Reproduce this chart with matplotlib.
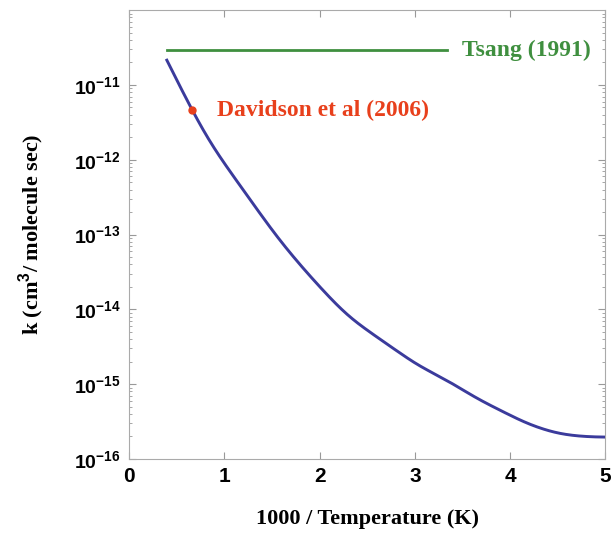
import matplotlib
matplotlib.use("Agg")
import matplotlib.pyplot as plt
import numpy as np

plt.rcParams["mathtext.fontset"] = "custom"
plt.rcParams["mathtext.bf"] = "Liberation Sans:bold"
plt.rcParams["mathtext.rm"] = "Liberation Sans:bold"

# rate constant vs inverse temperature
inv_temp = [0.396, 0.659, 0.851, 1.026, 1.201, 1.376, 1.551, 1.796, 1.972,
            2.146, 2.321, 2.497, 2.671, 2.847, 3.022, 3.196, 3.372, 3.617,
            3.792, 3.967, 4.142, 4.317, 4.493, 4.667, 4.842, 5.0]
k_rate = [2.15e-11, 4.6e-12, 1.65e-12, 8.0e-13, 3.9e-13, 1.9e-13, 9.3e-14,
          3.9e-14, 2.2e-14, 1.26e-14, 7.6e-15, 5.3e-15, 3.7e-15, 2.6e-15,
          1.8e-15, 1.4e-15, 1.07e-15, 6.8e-16, 5.2e-16, 4.05e-16, 3.1e-16,
          2.56e-16, 2.19e-16, 2.04e-16, 1.97e-16, 1.97e-16]

# Tsang (1991) constant estimate
tsang_x = [0.40, 3.34]
tsang_k = [2.9e-11, 2.9e-11]

# Davidson et al (2006) measurement
davidson_x = [0.659]
davidson_k = [4.6e-12]

serif = ["Liberation Serif", "DejaVu Serif"]
sans = ["Liberation Sans", "DejaVu Sans"]


def smooth_curve(x, y, xs, s=0.12):
    # local linear fit with gaussian weights: smooth, keeps trends at the ends
    dense = np.interp(xs, x, y)
    out = np.empty_like(xs)
    for i, x0 in enumerate(xs):
        w = np.exp(-0.5 * ((xs - x0) / s) ** 2)
        dx = xs - x0
        sw, swx, swxx = w.sum(), (w * dx).sum(), (w * dx * dx).sum()
        swy, swxy = (w * dense).sum(), (w * dx * dense).sum()
        out[i] = (swxx * swy - swx * swxy) / (sw * swxx - swx ** 2)
    return out


fig = plt.figure(figsize=(6.12, 5.36), dpi=100)
ax = fig.add_axes([0.211, 0.1437, 0.778, 0.8373])

xs = np.linspace(inv_temp[0], inv_temp[-1], 400)
ax.plot(xs, 10 ** smooth_curve(inv_temp, np.log10(k_rate), xs),
        color="#3b3b9c", lw=2.1, zorder=3)

ax.plot(tsang_x, tsang_k, color="#3f8f3f", lw=2.0)
ax.plot(davidson_x, davidson_k, "o", color="#e8401c", ms=5, zorder=4)

ax.text(3.50, tsang_k[0], "Tsang (1991)", color="#3f8f3f", fontsize=17,
        fontweight="bold", family=serif, va="center", ha="left")
ax.text(0.92, davidson_k[0], "Davidson et al (2006)", color="#e8401c",
        fontsize=17, fontweight="bold", family=serif, va="center", ha="left")

ax.set_yscale("log")
ax.set_xlim(0, 5)
ax.set_ylim(1e-16, 1e-10)
ax.set_xticks([0, 1, 2, 3, 4, 5])
ax.set_yticks([1e-16, 1e-15, 1e-14, 1e-13, 1e-12, 1e-11])
ax.set_yticklabels([r"$\mathbf{10^{-16}}$", r"$\mathbf{10^{-15}}$",
                    r"$\mathbf{10^{-14}}$", r"$\mathbf{10^{-13}}$",
                    r"$\mathbf{10^{-12}}$", r"$\mathbf{10^{-11}}$"])

for lab in ax.get_xticklabels():
    lab.set_family(sans)
    lab.set_fontweight("bold")
    lab.set_fontsize(15)
for lab in ax.get_yticklabels():
    lab.set_fontsize(14)

ax.tick_params(which="both", direction="in", top=True, right=True,
               color="#999999")
ax.tick_params(which="major", length=5, pad=6)
ax.tick_params(which="minor", length=2.5)
for s in ax.spines.values():
    s.set_color("#aaaaaa")
    s.set_linewidth(0.8)

ax.set_xlabel("1000 / Temperature (K)", family=serif, fontweight="bold",
              fontsize=16, labelpad=16)
ax.set_ylabel(r"k (cm$^{\mathbf{3}}$/ molecule sec)", family=serif,
              fontweight="bold", fontsize=16, labelpad=20)

fig.savefig("out.png", dpi=100)
